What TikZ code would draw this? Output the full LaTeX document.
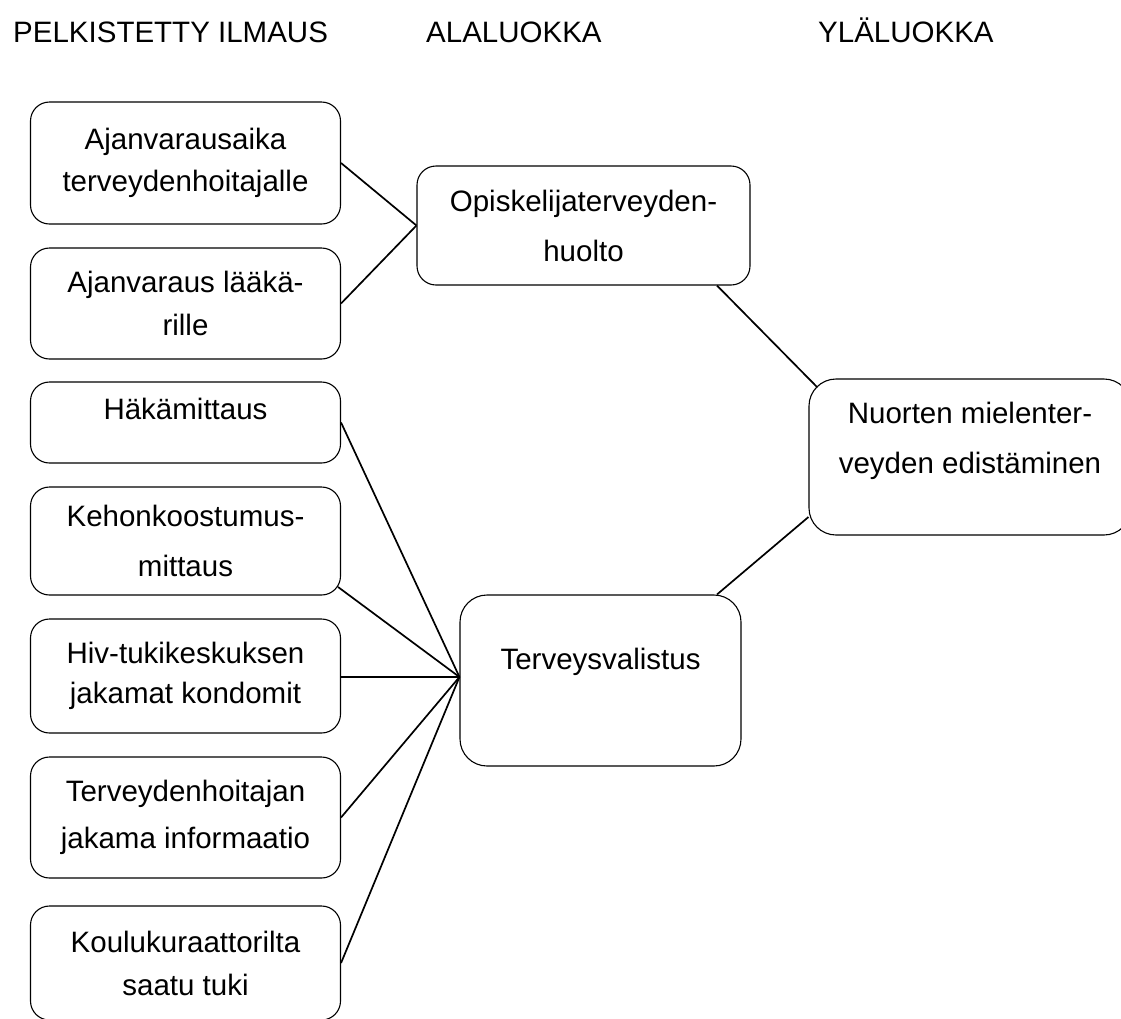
\documentclass[tikz,border=0pt]{standalone}
\usepackage{fontspec}
\setmainfont{Liberation Sans}
\newcommand{\boxfont}[1]{\fontsize{29.5}{#1}\selectfont}
\tikzstyle{item} = [draw, line width=1.1pt, rounded corners=19pt, minimum width=310pt, align=center, font=\boxfont{44}]
\tikzstyle{group} = [item, rounded corners=27pt]
\tikzstyle{heading} = [anchor=base west, inner sep=0pt, font=\boxfont{44}]
\tikzstyle{link} = [line width=1.7pt]

\begin{document}
\begin{tikzpicture}[x=1pt,y=-1pt]
        \useasboundingbox (0,0) rectangle (1121,1018);
        \node[heading] at (13,42) (h1) {PELKISTETTY ILMAUS};
        \node[heading] at (426,42) (h2) {ALALUOKKA};
        \node[heading] at (818,42) (h3) {YLÄLUOKKA};

        \node[item, minimum height=122pt, font=\boxfont{42}] at (185.5,163) (a1) {Ajanvarausaika\\terveydenhoitajalle};
        \node[item, minimum height=111pt, font=\boxfont{43}] at (185.5,303.5) (a2) {Ajanvaraus lääkä-\\rille};
        \node[item, minimum height=81pt, text depth=27pt] at (185.5,422.5) (b1) {Häkämittaus};
        \node[item, minimum height=108pt, font=\boxfont{50}] at (185.5,541) (b2) {Kehonkoostumus-\\mittaus};
        \node[item, minimum height=114pt, font=\boxfont{40}] at (185.5,676) (b3) {Hiv-tukikeskuksen\\jakamat kondomit};
        \node[item, minimum height=121pt, font=\boxfont{47}] at (185.5,817.5) (b4) {Terveydenhoitajan\\jakama informaatio};
        \node[item, minimum height=114pt, font=\boxfont{43}] at (185.5,963) (b5) {Koulukuraattorilta\\saatu tuki};

        \node[item, minimum width=333pt, minimum height=119pt, font=\boxfont{50}] at (583.5,225.5) (opis) {Opiskelijaterveyden-\\huolto};
        \node[group, minimum width=281pt, minimum height=171pt, text depth=42.5pt] at (600.5,680.5) (terv) {Terveysvalistus};
        \node[group, minimum width=322pt, minimum height=156pt, text depth=38.8pt, font=\boxfont{50}] at (970,457) (nuor) {Nuorten mielenter-\\veyden edistäminen};

        \draw[link] (a1.east) -- (opis.west);
        \draw[link] (a2.east) -- (opis.west);
        \draw[link] (b1.east) -- ([yshift=3.5pt]terv.west);
        \draw[link] ([shift={(-3pt,-46pt)}]b2.east) -- ([yshift=3.5pt]terv.west);
        \draw[link] ([yshift=-1pt]b3.east) -- ([yshift=3.5pt]terv.west);
        \draw[link] (b4.east) -- ([yshift=3.5pt]terv.west);
        \draw[link] (b5.east) -- ([yshift=3.5pt]terv.west);
        \draw[link] ([xshift=133.5pt]opis.south) -- ([shift={(9pt,-9pt)}]nuor.north west);
        \draw[link] ([xshift=116.5pt]terv.north) -- ([yshift=-60pt]nuor.west);
\end{tikzpicture}
\end{document}
